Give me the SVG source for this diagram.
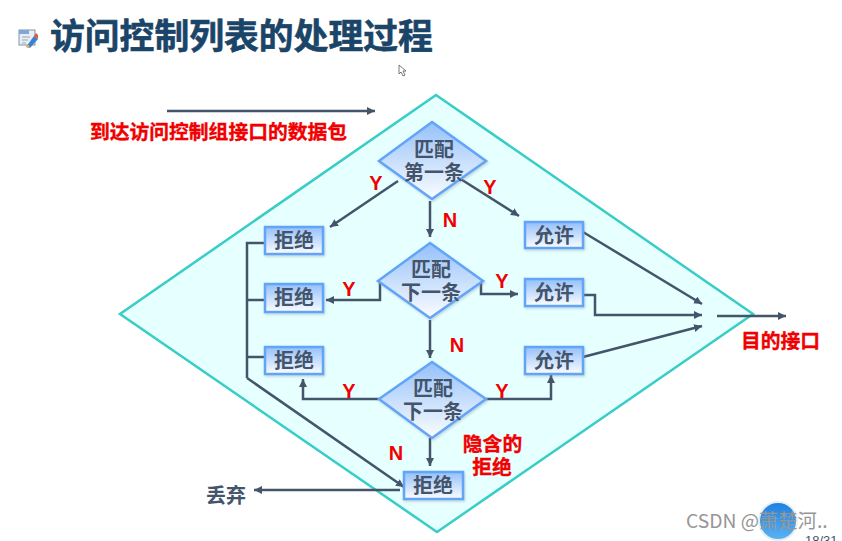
<svg xmlns="http://www.w3.org/2000/svg" width="842" height="541" viewBox="0 0 842 541">
<style>
text{font-family:"Noto Sans CJK SC","Noto Sans",sans-serif;font-weight:700}
.n{font-size:20px;fill:#44546a;text-anchor:middle}
.r{font-size:19.8px;fill:#f00000;stroke:#f00000;stroke-width:.35;text-anchor:middle}
.l{font-family:"Liberation Sans",sans-serif;font-size:20px;fill:#f00000;text-anchor:middle}
.b{fill:url(#g);stroke:#62a4f8;stroke-width:2.5;filter:url(#s)}
.c{fill:none;stroke:#44546a;stroke-width:2.5;marker-end:url(#a)}
.p{fill:none;stroke:#44546a;stroke-width:2.5}
</style>
<defs>
<linearGradient id="g" x1="0" y1="0" x2="0" y2="1"><stop offset="0" stop-color="#94c0fa"/><stop offset="1" stop-color="#fbfdff"/></linearGradient>
<linearGradient id="av" x1="0" y1="0" x2="0" y2="1"><stop offset="0" stop-color="#1f7fe0"/><stop offset="1" stop-color="#5ab4f2"/></linearGradient>
<filter id="s" x="-10%" y="-10%" width="125%" height="130%"><feDropShadow dx="1" dy="1.5" stdDeviation="1" flood-color="#7a8a99" flood-opacity=".35"/></filter>
<marker id="a" markerUnits="userSpaceOnUse" markerWidth="10" markerHeight="10" refX="8" refY="4" orient="auto"><path d="M0 0L8 4L0 8z" fill="#44546a"/></marker>
</defs>
<rect width="842" height="541" fill="#ffffff"/>
<g id="title">
<rect x="19" y="30" width="16" height="15" fill="#e8eef5" stroke="#8494a8"/>
<rect x="19" y="30" width="10" height="4" fill="#7fa8d6"/>
<path d="M22 37H30M22 40H28M22 43H26" stroke="#9aa8b8" stroke-width="1"/>
<path d="M26 47L34 36L38 39L30 48z" fill="#3f7fd0"/>
<path d="M34 36L36 33L38 35L38 39z" fill="#e05a3a"/>
<path d="M26 47L28 44L30 48z" fill="#e8b060"/>
<text x="50" y="49" font-size="34.8" fill="#1a4468" stroke="#1a4468" stroke-width=".6">访问控制列表的处理过程</text>
</g>
<path id="cursor" d="M399 65V74L401 72L403 76L405 75L403 71L406 71z" fill="#fff" stroke="#555" stroke-width="0.8"/>
<polygon id="zone" points="436,95 753,314 437,532 120,314" fill="#e6ffff" stroke="#38cdc6" stroke-width="2.5"/>
<g id="connectors">
<path class="c" d="M167 111H375"/>
<path class="c" d="M398 181L330 227"/>
<path class="c" d="M459 178L519 216"/>
<path class="c" d="M430 201V237"/>
<path class="c" d="M380 281V300H326"/>
<path class="c" d="M481 281V294H518"/>
<path class="c" d="M430 320V358"/>
<path class="c" d="M379 399H303V379"/>
<path class="c" d="M486 399H551V375"/>
<path class="c" d="M430 438V466"/>
<path class="c" d="M583 232L702 304"/>
<path class="c" d="M583 295H595V315H702"/>
<path class="c" d="M583 357L702 326"/>
<path class="c" d="M717 316H786"/>
<path class="p" d="M265 243H247V378"/>
<path class="p" d="M265 300H247"/>
<path class="p" d="M265 357H247"/>
<path class="c" d="M247 378L404 487"/>
<path class="c" d="M400 490H254"/>
</g>
<g id="d1"><polygon class="b" points="432,122 486,161 432,199 379,161"/><text class="n"><tspan x="434" y="157">匹配</tspan><tspan x="434" y="180">第一条</tspan></text></g>
<g id="d2"><polygon class="b" points="430,243 483,281 430,318 378,281"/><text class="n"><tspan x="431" y="277">匹配</tspan><tspan x="431" y="300">下一条</tspan></text></g>
<g id="d3"><polygon class="b" points="432,362 486,399 432,438 379,399"/><text class="n"><tspan x="433" y="396">匹配</tspan><tspan x="433" y="419">下一条</tspan></text></g>
<g id="deny1"><rect class="b" x="265" y="227" width="58" height="27"/><text class="n" x="294" y="248">拒绝</text></g>
<g id="deny2"><rect class="b" x="265" y="284" width="58" height="28"/><text class="n" x="294" y="305">拒绝</text></g>
<g id="deny3"><rect class="b" x="265" y="347" width="58" height="27"/><text class="n" x="294" y="368">拒绝</text></g>
<g id="deny4"><rect class="b" x="404" y="472" width="59" height="27"/><text class="n" x="433" y="493">拒绝</text></g>
<g id="allow1"><rect class="b" x="525" y="222" width="58" height="26"/><text class="n" x="554" y="243">允许</text></g>
<g id="allow2"><rect class="b" x="525" y="279" width="58" height="27"/><text class="n" x="554" y="300">允许</text></g>
<g id="allow3"><rect class="b" x="525" y="347" width="58" height="27"/><text class="n" x="554" y="368">允许</text></g>
<g id="labels">
<text class="r" x="218.5" y="139">到达访问控制组接口的数据包</text>
<text class="r" x="780.5" y="348">目的接口</text>
<text class="r"><tspan x="492.5" y="451">隐含的</tspan><tspan x="492" y="474">拒绝</tspan></text>
<text class="n" x="226" y="503">丢弃</text>
<text class="l" x="376" y="190">Y</text>
<text class="l" x="490" y="194">Y</text>
<text class="l" x="450" y="227">N</text>
<text class="l" x="349" y="296">Y</text>
<text class="l" x="502" y="288">Y</text>
<text class="l" x="457" y="352">N</text>
<text class="l" x="349" y="398">Y</text>
<text class="l" x="502" y="398">Y</text>
<text class="l" x="396" y="460">N</text>
</g>
<g id="footer">
<circle cx="778" cy="521" r="19" fill="url(#av)" stroke="#e6eef6" stroke-width="2"/>
<text x="686" y="528" font-size="19.3" style="font-weight:400" fill="#969696">CSDN @萧楚河..</text>
<text x="805" y="545" font-size="13" style="font-family:'Liberation Sans',sans-serif;font-weight:400" fill="#44546a">18/31</text>
</g>
</svg>
